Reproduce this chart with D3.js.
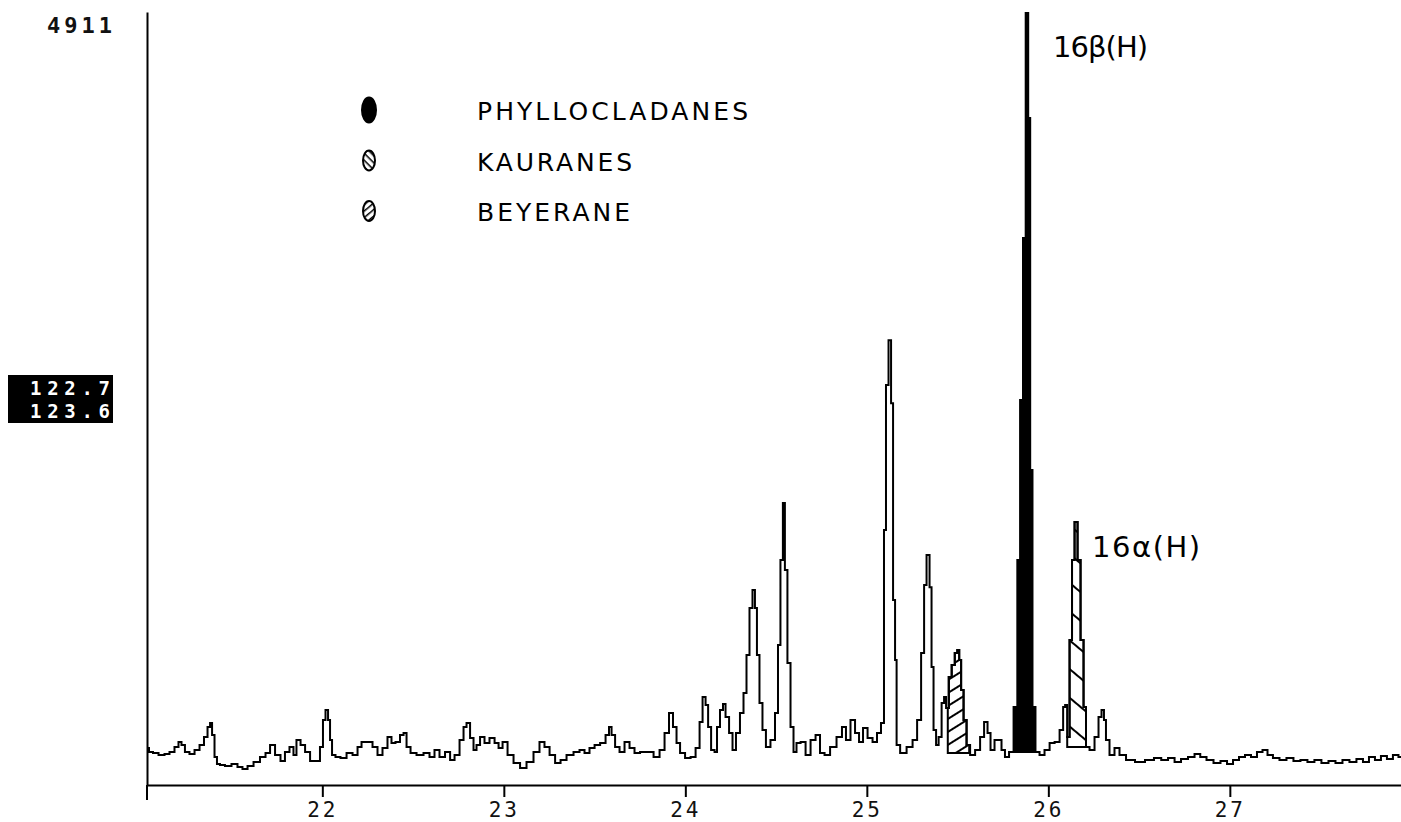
<!DOCTYPE html>
<html><head><meta charset="utf-8">
<script src="https://cdn.jsdelivr.net/npm/d3@7"></script>
<style>body{margin:0;background:#fff}svg{display:block;background:#fff}</style>
</head><body><svg id="chart" width="1401" height="822"></svg>
<script>
// ---- data (retention time in minutes, abundance) ----
const trace = [
[21.034,235],[21.056,210],[21.078,203],[21.117,191],[21.144,197],[21.172,210],[21.199,241],[21.216,273],[21.232,254],[21.254,210],[21.282,197],[21.310,222],[21.337,254],[21.359,305],[21.376,368],[21.387,394],[21.398,318],[21.414,178],[21.425,133],[21.447,127],[21.480,121],[21.519,133],[21.546,114],[21.574,102],[21.602,121],[21.640,146],[21.673,178],[21.701,203],[21.723,254],[21.756,191],[21.783,152],[21.805,210],[21.833,241],[21.849,191],[21.866,286],[21.894,254],[21.916,210],[21.949,152],[21.976,152],[21.998,241],[22.009,413],[22.026,476],[22.037,413],[22.048,286],[22.059,191],[22.086,178],[22.114,172],[22.153,203],[22.180,191],[22.208,241],[22.224,273],[22.263,273],[22.290,241],[22.318,191],[22.345,235],[22.373,305],[22.389,267],[22.417,273],[22.439,318],[22.456,330],[22.472,241],[22.500,203],[22.538,191],[22.577,203],[22.604,178],[22.632,222],[22.659,178],[22.693,210],[22.715,159],[22.742,191],[22.770,286],[22.786,368],[22.803,394],[22.825,298],[22.841,222],[22.858,254],[22.880,305],[22.907,267],[22.935,298],[22.963,267],[22.979,235],[23.007,273],[23.034,191],[23.073,140],[23.106,108],[23.144,146],[23.183,210],[23.210,273],[23.238,241],[23.266,191],[23.299,140],[23.326,159],[23.365,191],[23.403,210],[23.431,222],[23.458,203],[23.486,235],[23.514,254],[23.547,267],[23.574,318],[23.585,368],[23.602,318],[23.624,241],[23.651,210],[23.679,273],[23.706,235],[23.734,203],[23.767,210],[23.806,210],[23.844,178],[23.872,222],[23.899,330],[23.921,457],[23.943,368],[23.960,267],[23.982,203],[24.015,172],[24.043,178],[24.070,235],[24.087,400],[24.103,559],[24.120,508],[24.131,368],[24.153,222],[24.169,210],[24.180,368],[24.202,476],[24.213,514],[24.230,432],[24.252,330],[24.268,222],[24.290,330],[24.312,457],[24.329,584],[24.345,826],[24.362,1124],[24.378,1239],[24.389,1124],[24.400,826],[24.417,521],[24.433,349],[24.455,241],[24.483,286],[24.505,457],[24.516,889],[24.532,1429],[24.543,1791],[24.554,1366],[24.571,775],[24.588,368],[24.604,210],[24.621,267],[24.649,273],[24.676,191],[24.704,286],[24.731,318],[24.753,203],[24.781,191],[24.814,241],[24.852,305],[24.874,368],[24.896,286],[24.924,413],[24.946,330],[24.968,273],[24.990,362],[25.018,298],[25.045,273],[25.067,330],[25.089,394],[25.100,1620],[25.111,2541],[25.128,2826],[25.139,2426],[25.150,1175],[25.161,794],[25.167,254],[25.200,203],[25.238,241],[25.266,286],[25.288,413],[25.310,838],[25.321,1270],[25.337,1461],[25.354,1257],[25.359,749],[25.376,349],[25.387,254],[25.404,305],[25.420,521],[25.431,559],[25.442,489],[25.459,686],[25.476,762],[25.493,838],[25.504,857],[25.514,794],[25.525,603],[25.541,413],[25.558,254],[25.580,191],[25.613,222],[25.635,305],[25.657,400],[25.673,330],[25.690,222],[25.717,286],[25.734,286],[25.750,222],[25.772,178],[25.795,210],[25.822,495],[25.839,1429],[25.852,2446],[25.869,3475],[25.883,4911],[25.894,4237],[25.905,2001],[25.918,495],[25.938,210],[25.965,191],[25.993,222],[26.021,267],[26.048,273],[26.076,349],[26.087,495],[26.098,508],[26.109,305],[26.125,921],[26.136,1429],[26.153,1671],[26.169,1429],[26.186,921],[26.202,495],[26.213,241],[26.241,222],[26.268,305],[26.285,432],[26.301,476],[26.312,413],[26.323,286],[26.351,191],[26.378,235],[26.406,191],[26.450,159],[26.505,146],[26.560,159],[26.604,172],[26.640,159],[26.679,172],[26.712,146],[26.750,165],[26.789,178],[26.822,197],[26.852,178],[26.891,159],[26.929,140],[26.968,152],[27.001,133],[27.034,159],[27.067,178],[27.100,191],[27.133,178],[27.166,210],[27.194,222],[27.221,191],[27.254,172],[27.293,159],[27.331,172],[27.370,152],[27.408,159],[27.447,146],[27.485,159],[27.524,140],[27.563,152],[27.601,140],[27.640,159],[27.678,146],[27.717,165],[27.750,146],[27.783,178],[27.816,159],[27.849,184],[27.882,165],[27.915,191],[27.943,178]
];
const xTickValues = [22, 23, 24, 25, 26, 27];
const timeRange = [21.034, 27.943];
const fullScale = 4911;
const massLabels = ["122.7", "123.6"];
const legendLabels = ["PHYLLOCLADANES", "KAURANES", "BEYERANE"];
const regionClass = ["PHYLLOCLADANES", "KAURANES", "BEYERANE"];
const regionStart = [25.806, 26.104, 25.446];
const regionEnd = [25.940, 26.214, 25.564];
const regionBase = [210, 241, 203];
const peakNames = ["16β(H)", "16α(H)"];
const peakTimes = [25.883, 26.153];

// ---- layout ----
const plot = {left: 147, right: 1401, top: 12, bottom: 785};
const svg = d3.select("#chart");

const x = d3.scaleLinear().domain(timeRange).range([plot.left, plot.right]);
const y = d3.scaleLinear().domain([0, fullScale]).range([plot.bottom, plot.top]);

const defs = svg.append("defs");
function hatch(id, spacing, angle, sw) {
  const p = defs.append("pattern").attr("id", id)
    .attr("patternUnits", "userSpaceOnUse")
    .attr("width", 40).attr("height", spacing)
    .attr("patternTransform", `rotate(${angle})`);
  p.append("rect").attr("width", 40).attr("height", spacing).attr("fill", "#fff");
  p.append("line").attr("x1", 0).attr("x2", 40).attr("y1", sw/2).attr("y2", sw/2)
    .attr("stroke", "#000").attr("stroke-width", sw);
}
hatch("hatchK", 22, 40, 2);
hatch("hatchB", 11, -32, 2);
hatch("hatchKleg", 5, 45, 1.6);
hatch("hatchBleg", 5, -40, 1.6);
defs.append("clipPath").attr("id", "plotClip").append("rect")
  .attr("x", plot.left).attr("y", plot.top)
  .attr("width", plot.right - plot.left).attr("height", plot.bottom - plot.top);

const fillFor = {PHYLLOCLADANES: "#000", KAURANES: "url(#hatchK)", BEYERANE: "url(#hatchB)"};
const legFill = {PHYLLOCLADANES: "#000", KAURANES: "url(#hatchKleg)", BEYERANE: "url(#hatchBleg)"};

// value of the step-drawn trace at time t
function valueAt(t) {
  for (let i = 0; i < trace.length - 1; i++) {
    const a = trace[i], b = trace[i+1];
    if (t >= a[0] && t <= b[0]) return t < (a[0] + b[0]) / 2 ? a[1] : b[1];
  }
  return trace[trace.length-1][1];
}

const g = svg.append("g").attr("clip-path", "url(#plotClip)");

// shaded peak regions
regionClass.forEach((c, i) => {
  const t0 = regionStart[i], t1 = regionEnd[i], base = regionBase[i];
  const inside = trace.filter(d => d[0] > t0 && d[0] < t1);
  const pts = [[t0, valueAt(t0)]].concat(inside, [[t1, valueAt(t1)]]);
  const area = d3.area().curve(d3.curveStep).x(d => x(d[0])).y0(y(base)).y1(d => y(d[1]));
  g.append("path").attr("d", area(pts))
    .attr("fill", fillFor[c])
    .attr("stroke", "#000").attr("stroke-width", 2).attr("stroke-linejoin", "miter");
});

// chromatogram trace
const line = d3.line().curve(d3.curveStep).x(d => x(d[0])).y(d => y(d[1]));
g.append("path").attr("d", line(trace))
  .attr("fill", "none").attr("stroke", "#000").attr("stroke-width", 2)
  .attr("stroke-linejoin", "miter");

// x axis
const xAxis = d3.axisBottom(x).tickValues(xTickValues).tickSize(12).tickSizeOuter(0)
  .tickPadding(5).tickFormat(d3.format("d"));
const xa = svg.append("g").attr("transform", `translate(0,${plot.bottom})`).call(xAxis);
xa.select(".domain").attr("stroke", "#000").attr("stroke-width", 2);
xa.selectAll(".tick line").attr("stroke", "#000").attr("stroke-width", 2);
xa.selectAll(".tick text")
  .attr("font-family", "'DejaVu Sans Mono', monospace").attr("font-size", 21)
  .attr("letter-spacing", 3).attr("fill", "#111");

// y axis line (extends a little below x axis)
const ya = svg.append("g").attr("transform", `translate(${plot.left},0)`)
  .call(d3.axisLeft(y).tickValues([]).tickSizeOuter(0));
ya.select(".domain").attr("stroke", "#000").attr("stroke-width", 2);
svg.append("line").attr("x1", plot.left).attr("x2", plot.left)
  .attr("y1", plot.bottom).attr("y2", plot.bottom + 15)
  .attr("stroke", "#000").attr("stroke-width", 2);

// full scale label
svg.append("text").attr("x", 47).attr("y", y(fullScale) + 21)
  .attr("font-family", "'DejaVu Sans Mono', monospace").attr("font-size", 22)
  .attr("font-weight", "bold")
  .attr("textLength", 65).attr("lengthAdjust", "spacing")
  .attr("fill", "#111").text(fullScale);

// ion mass box
svg.append("rect").attr("x", 8).attr("y", 375).attr("width", 105).attr("height", 48).attr("fill", "#000");
massLabels.forEach((m, i) => {
  svg.append("text").attr("x", 30).attr("y", 395 + i * 23)
    .attr("font-family", "'DejaVu Sans Mono', monospace").attr("font-size", 19)
    .attr("font-weight", "bold")
    .attr("textLength", 80).attr("lengthAdjust", "spacing")
    .attr("fill", "#fff").text(m);
});

// legend
const legLen = [271, 155, 153];
legendLabels.forEach((lab, i) => {
  const cy = 110 + i * 50.5;
  svg.append("ellipse").attr("cx", 369).attr("cy", cy).attr("rx", i === 0 ? 7 : 6).attr("ry", i === 0 ? 12.5 : 10)
    .attr("fill", legFill[regionClass[i]]).attr("stroke", "#000").attr("stroke-width", 2);
  svg.append("text").attr("x", 477).attr("y", cy + 10)
    .attr("font-family", "'DejaVu Sans', sans-serif").attr("font-size", 25)
    .attr("textLength", legLen[i]).attr("lengthAdjust", "spacing")
    .attr("fill", "#000").text(lab);
});

// handwritten peak annotations
const annDx = [26, 16], annY = [57, 557], annLen = [95, 108];
peakNames.forEach((n, i) => {
  svg.append("text").attr("x", x(peakTimes[i]) + annDx[i]).attr("y", annY[i])
    .attr("font-family", "'DejaVu Sans', sans-serif").attr("font-size", 29)
    .attr("textLength", annLen[i]).attr("lengthAdjust", "spacing")
    .attr("fill", "#000").text(n);
});
</script></body></html>
